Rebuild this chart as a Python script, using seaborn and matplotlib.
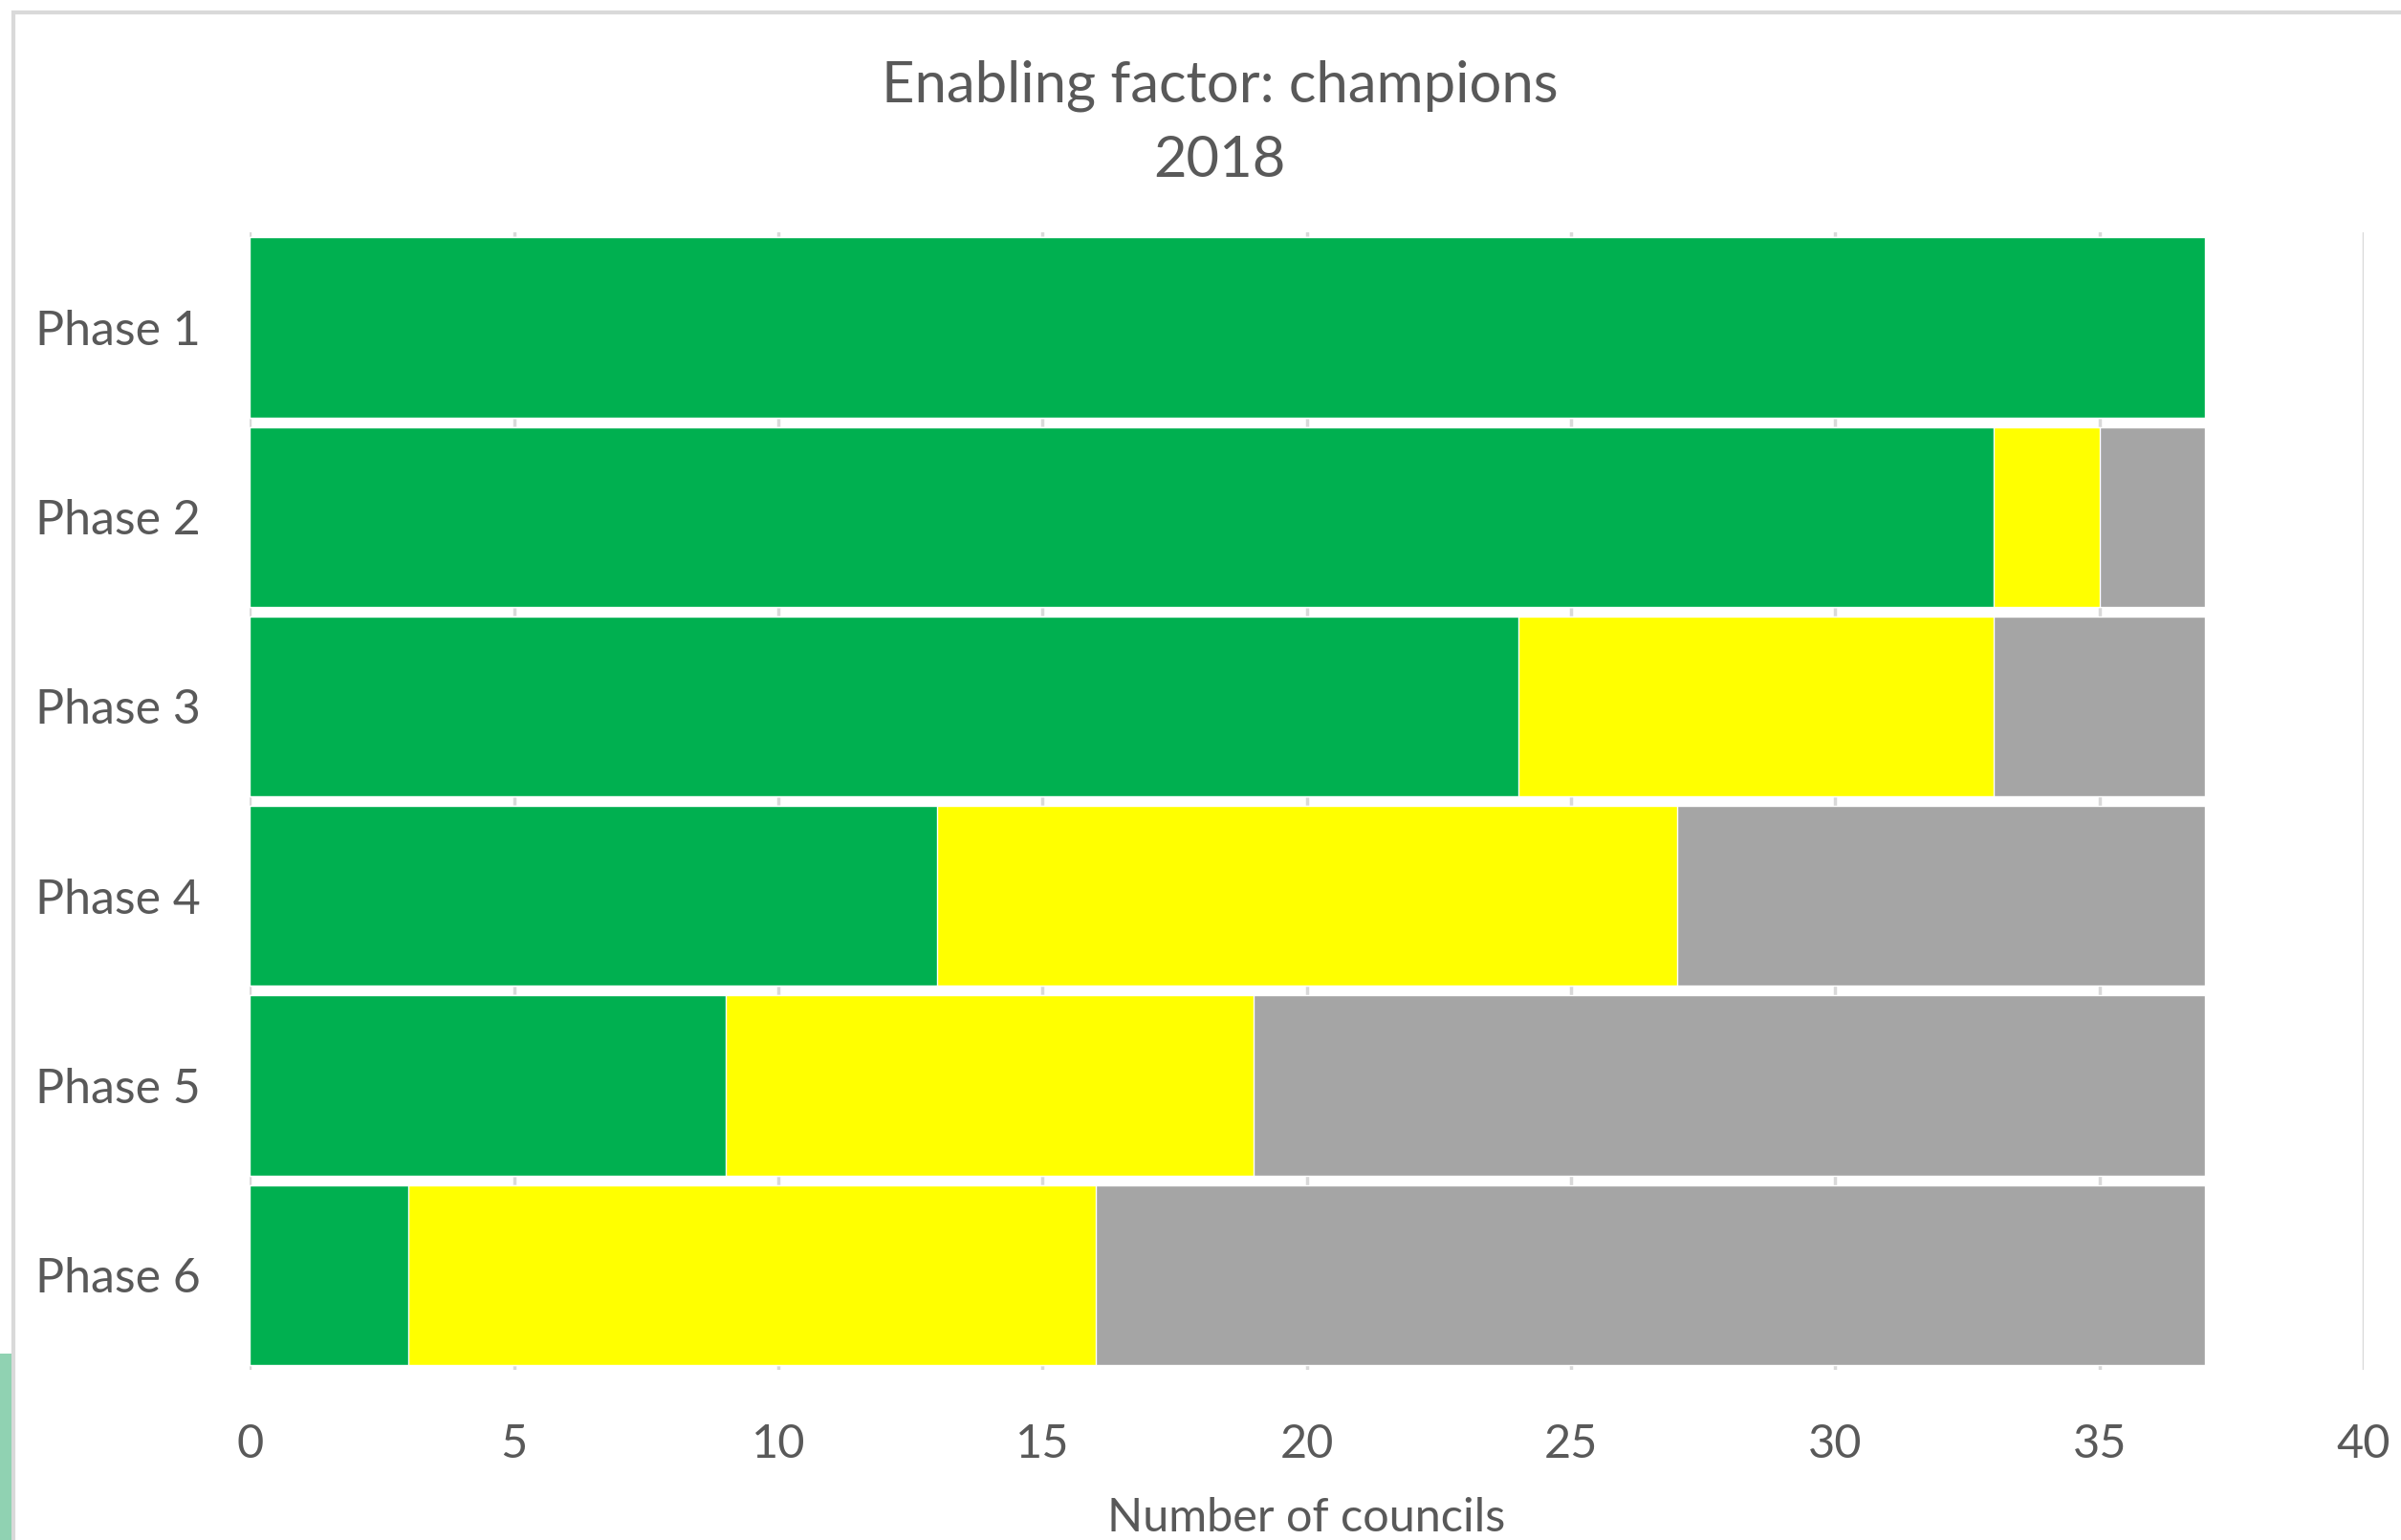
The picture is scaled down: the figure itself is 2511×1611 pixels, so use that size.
import matplotlib
matplotlib.use("Agg")
import matplotlib.pyplot as plt
import seaborn as sns
import pandas as pd
from matplotlib.patches import Rectangle

# datos
phases = ["Phase 1", "Phase 2", "Phase 3", "Phase 4", "Phase 5", "Phase 6"]
green = [37, 33, 24, 13, 9, 3]
yellow = [0, 2, 9, 14, 10, 13]
grey = [0, 2, 4, 10, 18, 21]
xticks = [0, 5, 10, 15, 20, 25, 30, 35, 40]

sns.set_theme(style="white")
plt.rcParams["font.family"] = ["Lato", "DejaVu Sans"]
txt = "#595959"

df = pd.DataFrame({"phase": phases, "green": green, "yellow": yellow, "grey": grey})
df["g_y"] = df["green"] + df["yellow"]
df["total"] = df["g_y"] + df["grey"]

fig = plt.figure(figsize=(25.11, 16.11), dpi=100)
ax = fig.add_axes([0.104, 0.1105, 0.9845 - 0.104, 0.849 - 0.1105])

# apilado: se dibuja primero el total y encima las sumas parciales
sns.barplot(data=df, x="total", y="phase", orient="h", color="#A5A5A5",
            width=0.95, saturation=1, ax=ax, zorder=3)
sns.barplot(data=df, x="g_y", y="phase", orient="h", color="#FFFF00",
            width=0.95, saturation=1, ax=ax, zorder=4)
sns.barplot(data=df, x="green", y="phase", orient="h", color="#00B050",
            width=0.95, saturation=1, ax=ax, zorder=5)

ax.set_xlim(0, 40)
ax.set_ylim(5.5, -0.5)
ax.set_xticks(xticks)
ax.grid(axis="x", color="#D9D9D9", linewidth=2.5, zorder=0)
ax.set_axisbelow(True)
for s in ax.spines.values():
    s.set_visible(False)

ax.tick_params(axis="y", length=0, pad=37, labelsize=36, labelcolor=txt)
ax.tick_params(axis="x", length=0, pad=40, labelsize=35, labelcolor=txt)
ax.set_ylabel("")
ax.set_xlabel("Number of councils", fontsize=35, color=txt, labelpad=24)

fig.text(0.508, 1 - 90 / 1611, "Enabling factor: champions", ha="center", va="center",
         fontsize=43, color=txt)
fig.text(0.508, 1 - 168 / 1611, "2018", ha="center", va="center", fontsize=43, color=txt)

# marco del grafico y detalle verde de la esquina
fig.patches.append(Rectangle((14 / 2511, -0.05), 1.1, 1 - 13 / 1611 + 0.05,
                             transform=fig.transFigure, fill=False,
                             edgecolor="#D9D9D9", linewidth=3))
fig.patches.append(Rectangle((0, 0), 12 / 2511, 195 / 1611, transform=fig.transFigure,
                             facecolor="#90D2B2", edgecolor="none"))

fig.savefig("out.png", dpi=100)
